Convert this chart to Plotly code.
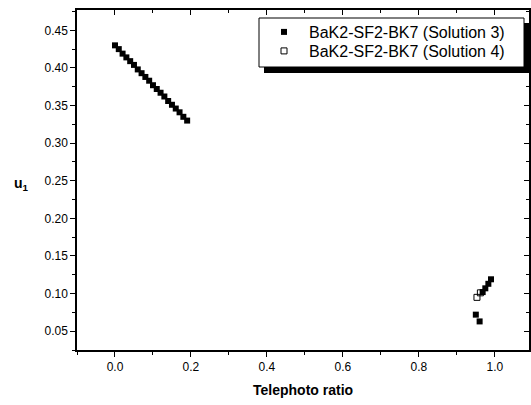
import plotly.graph_objects as go

# Solution 3 (filled squares)
sol3_x = [0.00, 0.01, 0.02, 0.03, 0.04, 0.05, 0.06, 0.07, 0.08, 0.09,
          0.10, 0.11, 0.12, 0.13, 0.14, 0.15, 0.16, 0.17, 0.18, 0.19,
          0.968, 0.975, 0.983, 0.990, 0.950, 0.960]
sol3_y = [0.430, 0.425, 0.419, 0.414, 0.409, 0.404, 0.398, 0.393, 0.388, 0.383,
          0.377, 0.372, 0.367, 0.362, 0.356, 0.351, 0.346, 0.341, 0.335, 0.330,
          0.102, 0.107, 0.113, 0.119, 0.072, 0.063]

# Solution 4 (open squares)
sol4_x = [0.953, 0.962]
sol4_y = [0.095, 0.101]

x_range = [-0.1, 1.09]
y_range = [0.025, 0.477]

FONT = "Arial, Liberation Sans, sans-serif"

# plot area in pixels (for placing decorations)
L, R, T, B = 77, 529, 10, 350
W, H = R - L, B - T


def px(x):
    return (x - L) / W


def py(y):
    return (B - y) / H


fig = go.Figure()
fig.add_trace(go.Scatter(
    x=sol3_x, y=sol3_y, mode="markers", name="BaK2-SF2-BK7 (Solution 3)",
    marker=dict(symbol="square", size=6, color="black", line=dict(width=0)),
    legend="legend",
))
fig.add_trace(go.Scatter(
    x=sol4_x, y=sol4_y, mode="markers", name="BaK2-SF2-BK7 (Solution 4)",
    marker=dict(symbol="square-open", size=6, color="black", line=dict(width=1)),
    legend="legend2",
))
# invisible trace to activate mirrored tick axes
fig.add_trace(go.Scatter(x=[None], y=[None], xaxis="x2", yaxis="y2",
                         showlegend=False, hoverinfo="skip"))

axis_common = dict(showline=True, linecolor="black", linewidth=1.5,
                   ticks="outside", ticklen=5, tickwidth=1.2, tickcolor="black",
                   showgrid=False, zeroline=False, automargin=False,
                   tickfont=dict(family=FONT, size=12, color="black"))

legend_common = dict(xanchor="left", yanchor="middle",
                     bgcolor="rgba(0,0,0,0)", borderwidth=0,
                     font=dict(family=FONT, size=16, color="black"),
                     itemwidth=40, tracegroupgap=0)

fig.update_layout(
    width=531, height=405,
    margin=dict(l=L, r=531 - R, t=T, b=405 - B),
    paper_bgcolor="white", plot_bgcolor="white",
    font=dict(family=FONT, color="black"),
    xaxis=dict(range=x_range, dtick=0.2, tick0=0, tickformat=".1f",
               minor=dict(dtick=0.1, tick0=0, ticks="outside", ticklen=3, tickcolor="black"),
               **axis_common),
    yaxis=dict(range=y_range, dtick=0.05, tick0=0, tickformat=".2f",
               minor=dict(dtick=0.025, tick0=0, ticks="outside", ticklen=3, tickcolor="black"),
               **axis_common),
    xaxis2=dict(range=x_range, overlaying="x", side="top", showticklabels=False,
                dtick=0.2, tick0=0, ticks="inside", ticklen=5, tickcolor="black",
                minor=dict(dtick=0.1, tick0=0, ticks="inside", ticklen=3, tickcolor="black"),
                showline=True, linecolor="black", linewidth=1.5, showgrid=False,
                zeroline=False, automargin=False),
    yaxis2=dict(range=y_range, overlaying="y", side="right", showticklabels=False,
                dtick=0.05, tick0=0, ticks="inside", ticklen=5, tickcolor="black",
                minor=dict(dtick=0.025, tick0=0, ticks="inside", ticklen=3, tickcolor="black"),
                showline=True, linecolor="black", linewidth=1.5, showgrid=False,
                zeroline=False, automargin=False),
    legend=dict(x=px(259), y=py(32), **legend_common),
    legend2=dict(x=px(259), y=py(51), **legend_common),
    showlegend=True,
    annotations=[
        dict(text="<b>Telephoto ratio</b>", xref="paper", yref="paper",
             x=0.5, y=py(390), xanchor="center", yanchor="middle",
             showarrow=False, font=dict(family=FONT, size=14, color="black")),
        dict(text="<b>u<sub>1</sub></b>", xref="paper", yref="paper",
             x=px(21), y=py(184), xanchor="center", yanchor="middle",
             showarrow=False, font=dict(family=FONT, size=14, color="black")),
    ],
    shapes=[
        dict(type="rect", xref="paper", yref="paper",
             x0=px(264), x1=px(529), y0=py(73), y1=py(23),
             fillcolor="black", line=dict(width=0), layer="above"),
        dict(type="rect", xref="paper", yref="paper",
             x0=px(259), x1=px(524), y0=py(67), y1=py(18),
             fillcolor="white", line=dict(width=1, color="black"), layer="above"),
    ],
)

fig.write_html("out.html", config={"displayModeBar": False},
               post_script="document.body.style.margin='0';")
